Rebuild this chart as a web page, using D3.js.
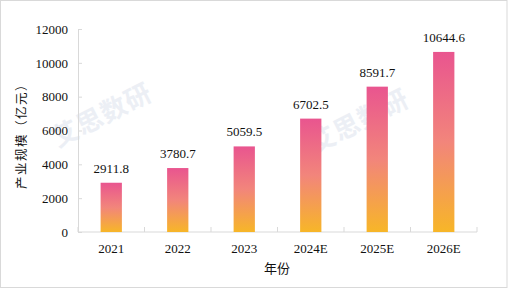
<!DOCTYPE html>
<html>
<head>
<meta charset="utf-8">
<script src="https://cdn.jsdelivr.net/npm/d3@7"></script>
<style>
    body { margin: 0; background: #fff; }
    svg { display: block; }
</style>
</head>
<body>
<svg width="508" height="298"></svg>
<script>
const YEARS = ['2021', '2022', '2023', '2024E', '2025E', '2026E'];
const VALUES = [2911.8, 3780.7, 5059.5, 6702.5, 8591.7, 10644.6];
const Y_TICKS = [0, 2000, 4000, 6000, 8000, 10000, 12000];

const w = 508;
const h = 298;
const margin = { left: 78, right: 31, top: 29, bottom: 66 };
const SERIF = '"Liberation Serif", "Times New Roman", serif';
const CJK = '"Noto Sans CJK SC", sans-serif';

const svg = d3.select('svg');

// outer frame
svg.append('rect')
    .attr('x', 0.5)
    .attr('y', 0.5)
    .attr('width', w - 1.5)
    .attr('height', 287)
    .attr('fill', '#fff')
    .attr('stroke', '#d9d9d9');

const defs = svg.append('defs');
const grad = defs.append('linearGradient')
    .attr('id', 'barGrad')
    .attr('x1', 0).attr('y1', 0)
    .attr('x2', 0).attr('y2', 1);
grad.append('stop').attr('offset', '0%').attr('stop-color', '#e9558f');
grad.append('stop').attr('offset', '50%').attr('stop-color', '#f2857b');
grad.append('stop').attr('offset', '100%').attr('stop-color', '#f7b628');

const x = d3.scaleBand()
    .domain(YEARS)
    .range([margin.left, w - margin.right])
    .paddingInner(0.68)
    .paddingOuter(0.34);

const y = d3.scaleLinear()
    .domain([0, 12000])
    .range([h - margin.bottom, margin.top]);

// watermarks
[[101, 113], [358, 119]].forEach(([cx, cy]) => {
    svg.append('text')
        .attr('transform', `translate(${cx},${cy}) rotate(-27)`)
        .attr('text-anchor', 'middle')
        .attr('dominant-baseline', 'central')
        .style('font-family', CJK)
        .style('font-weight', 'bold')
        .style('font-size', '26px')
        .style('letter-spacing', '1px')
        .attr('fill', '#e6eaf2')
        .attr('opacity', 0.75)
        .text('艾思数研');
});

// y axis
const yAxis = svg.append('g')
    .attr('transform', `translate(${margin.left},0)`)
    .call(d3.axisLeft(y).tickValues(Y_TICKS).tickSize(-4).tickPadding(10).tickFormat(d3.format('d')));
yAxis.select('.domain').attr('stroke', '#d9d9d9');
yAxis.selectAll('.tick line').attr('stroke', '#d9d9d9');
yAxis.selectAll('text')
    .style('font-family', SERIF)
    .style('font-size', '13px')
    .attr('fill', '#111');

// x axis, ticks on category boundaries
const bounds = YEARS.map(d => x(d) - x.step() * x.paddingOuter()).concat([w - margin.right]);
const xAxisG = svg.append('g').attr('transform', `translate(0,${h - margin.bottom})`);
xAxisG.append('line')
    .attr('x1', margin.left).attr('x2', w - margin.right)
    .attr('stroke', '#d9d9d9');
xAxisG.selectAll('line.tk')
    .data(bounds)
    .enter()
    .append('line')
    .attr('class', 'tk')
    .attr('x1', d => d).attr('x2', d => d)
    .attr('y1', 0).attr('y2', -5)
    .attr('stroke', '#d9d9d9');
xAxisG.selectAll('text')
    .data(YEARS)
    .enter()
    .append('text')
    .attr('x', d => x(d) + x.bandwidth() / 2)
    .attr('y', 21)
    .attr('text-anchor', 'middle')
    .style('font-family', SERIF)
    .style('font-size', '13px')
    .attr('fill', '#111')
    .text(d => d);

// bars
svg.append('g')
    .selectAll('rect')
    .data(VALUES)
    .enter()
    .append('rect')
    .attr('x', (d, i) => x(YEARS[i]))
    .attr('y', d => y(d))
    .attr('width', x.bandwidth())
    .attr('height', d => y(0) - y(d))
    .attr('fill', 'url(#barGrad)');

// value labels
svg.append('g')
    .selectAll('text')
    .data(VALUES)
    .enter()
    .append('text')
    .attr('x', (d, i) => x(YEARS[i]) + x.bandwidth() / 2)
    .attr('y', d => y(d) - 10)
    .attr('text-anchor', 'middle')
    .style('font-family', SERIF)
    .style('font-size', '13px')
    .attr('fill', '#111')
    .text(d => d.toFixed(1));

// axis titles
svg.append('text')
    .attr('transform', 'translate(26,133) rotate(-90)')
    .attr('text-anchor', 'middle')
    .style('font-family', CJK)
    .style('font-size', '12.5px')
    .style('letter-spacing', '1.5px')
    .attr('fill', '#111')
    .text('产业规模（亿元）');

svg.append('text')
    .attr('x', 277)
    .attr('y', 273)
    .attr('text-anchor', 'middle')
    .style('font-family', CJK)
    .style('font-size', '13px')
    .attr('fill', '#111')
    .text('年份');
</script>
</body>
</html>
